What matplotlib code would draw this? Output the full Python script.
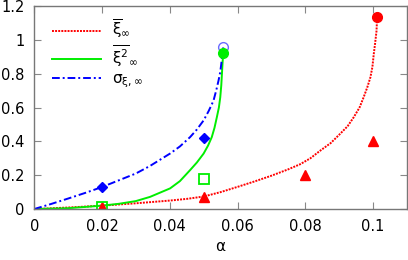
import matplotlib
matplotlib.use("Agg")
import matplotlib.pyplot as plt

plt.rcParams['font.family'] = ['DejaVu Sans']
plt.rcParams['mathtext.fontset'] = 'dejavusans'
plt.rcParams['mathtext.default'] = 'regular'

# theory curves
red_x = [0, 0.01, 0.02, 0.03, 0.04, 0.045, 0.05, 0.055, 0.06, 0.065, 0.07, 0.075,
         0.0785, 0.0815, 0.0844, 0.0875, 0.0903, 0.0925, 0.0943, 0.096, 0.0972,
         0.0983, 0.0992, 0.0998, 0.1002, 0.1006, 0.101, 0.1012]
red_y = [0, 0.009, 0.02, 0.034, 0.05, 0.06, 0.074, 0.1, 0.131, 0.163, 0.197, 0.235,
         0.265, 0.3, 0.345, 0.39, 0.445, 0.49, 0.543, 0.6, 0.66,
         0.72, 0.778, 0.84, 0.916, 0.98, 1.05, 1.135]
green_x = [0, 0.01, 0.02, 0.025, 0.03, 0.0342, 0.0401, 0.043, 0.046, 0.048, 0.05,
           0.0513, 0.0524, 0.0532, 0.0539, 0.0545, 0.0549, 0.0552, 0.0554, 0.0556, 0.0558]
green_y = [0, 0.005, 0.02, 0.031, 0.047, 0.072, 0.122, 0.165, 0.23, 0.275, 0.328,
           0.375, 0.425, 0.48, 0.543, 0.6, 0.66, 0.73, 0.80, 0.87, 0.925]
blue_x = [0, 0.005, 0.01, 0.015, 0.02, 0.025, 0.03, 0.0342, 0.0401, 0.043, 0.046,
          0.048, 0.05, 0.0515, 0.0529, 0.0537, 0.0544, 0.0549, 0.0552, 0.0555, 0.0558]
blue_y = [0, 0.03, 0.062, 0.095, 0.13, 0.17, 0.21, 0.255, 0.328, 0.37, 0.425,
          0.47, 0.524, 0.58, 0.64, 0.7, 0.76, 0.81, 0.857, 0.91, 0.955]

# simulation points
tri_x = [0.02, 0.05, 0.08, 0.1]
tri_y = [0.01, 0.07, 0.20, 0.40]
sq_x = [0.02, 0.05]
sq_y = [0.01, 0.18]
dia_x = [0.02, 0.05]
dia_y = [0.13, 0.42]

# end points
red_end = (0.1012, 1.135)
green_end = (0.0558, 0.925)
blue_end = (0.0558, 0.955)

xticks = [0, 0.02, 0.04, 0.06, 0.08, 0.1]
xticklabels = ['0', '0.02', '0.04', '0.06', '0.08', '0.1']
yticks = [0, 0.2, 0.4, 0.6, 0.8, 1.0, 1.2]
yticklabels = ['0', '0.2', '0.4', '0.6', '0.8', '1', '1.2']

fig = plt.figure(figsize=(4.08, 2.60), dpi=100)
ax = fig.add_axes([0.0838, 0.196, 0.9137, 0.781])

ax.plot(red_x, red_y, color='#ff0000', lw=1.4, linestyle=(0, (1, 0.6)),
        label=r'$\overline{\xi}_{\infty}$')
ax.plot(green_x, green_y, color='#00ee00', lw=1.4, linestyle='-',
        label=r'$\overline{\xi^2}_{\infty}$')
ax.plot(blue_x, blue_y, color='#0000ff', lw=1.4, linestyle=(0, (4, 1.5, 1, 1.5)),
        label=r'$\sigma_{\xi,\infty}$')

ax.plot(tri_x, tri_y, linestyle='none', marker='^', ms=7, color='#ff0000', mec='#ff0000')
ax.plot(sq_x, sq_y, linestyle='none', marker='s', ms=7, mfc='none', mec='#00ee00', mew=1.3)
ax.plot(dia_x, dia_y, linestyle='none', marker='D', ms=5.5, color='#0000ff')

ax.plot([blue_end[0]], [blue_end[1]], linestyle='none', marker='o', ms=7, mfc='none', mec='#6a6aff', mew=1.0)
ax.plot([green_end[0]], [green_end[1]], linestyle='none', marker='o', ms=7, color='#00ee00')
ax.plot([red_end[0]], [red_end[1]], linestyle='none', marker='o', ms=7, color='#ff0000')

ax.set_xlim(0, 0.11)
ax.set_ylim(0, 1.2)
ax.set_xticks(xticks)
ax.set_xticklabels(xticklabels)
ax.set_yticks(yticks)
ax.set_yticklabels(yticklabels)
ax.tick_params(direction='in', top=True, right=True, length=5, width=0.8,
               color='#888888', labelsize=10.5, pad=7)
for s in ax.spines.values():
    s.set_color('#777777')
    s.set_linewidth(1.0)

ax.set_xlabel(r'$\alpha$', fontsize=11, labelpad=4)

leg = ax.legend(loc='upper left', frameon=False, fontsize=11, handlelength=3.2,
                handletextpad=0.7, labelspacing=0.15, borderaxespad=0.4,
                bbox_to_anchor=(0.015, 1.0))

fig.savefig('out.png', dpi=100)
